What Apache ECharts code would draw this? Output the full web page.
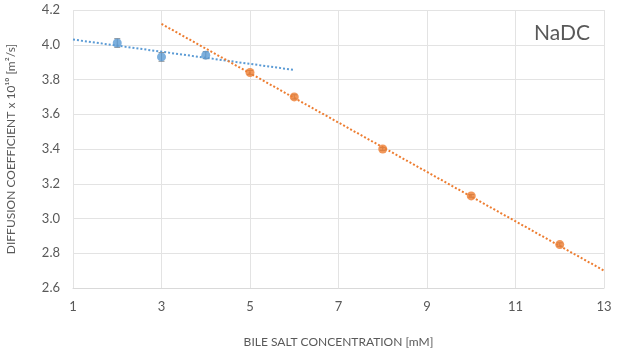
<!DOCTYPE html>
<html>
<head>
<meta charset="utf-8">
<script src="https://cdn.jsdelivr.net/npm/echarts@6/dist/echarts.min.js"></script>
<style>
html,body{margin:0;padding:0;background:#fff;}
#main{width:617px;height:356px;}
</style>
</head>
<body>
<div id="main"></div>
<script>
// 数据
var xTicks = [1, 3, 5, 7, 9, 11, 13];
var blueX = [2, 3, 4];
var blueY = [4.01, 3.93, 3.94];
var blueErr = [0.025, 0.025, 0.02];
var orangeX = [5, 6, 8, 10, 12];
var orangeY = [3.84, 3.70, 3.40, 3.13, 2.85];
var orangeErr = [0.012, 0.012, 0.008, 0.008, 0.01];
// trendline ends
var blueTrend = [[1, 4.03], [6, 3.855]];
var orangeTrend = [[3, 4.12], [13, 2.70]];

var BLUE = '#5b9bd5';
var ORANGE = '#ed7d31';
var GREY = '#595959';
var FONT = 'Lato';

function pairs(xs, ys) {
	var out = [];
	for (var i = 0; i < xs.length; i++) out.push([xs[i], ys[i]]);
	return out;
}
function errData(xs, ys, es) {
	var out = [];
	for (var i = 0; i < xs.length; i++) out.push([xs[i], ys[i] - es[i], ys[i] + es[i]]);
	return out;
}
function errBar(params, api) {
	var x = api.value(0);
	var lo = api.coord([x, api.value(1)]);
	var hi = api.coord([x, api.value(2)]);
	var w = 3;
	var st = {stroke: '#8c8c8c', lineWidth: 1};
	return {
		type: 'group',
		children: [
			{type: 'line', shape: {x1: lo[0], y1: lo[1], x2: hi[0], y2: hi[1]}, style: st},
			{type: 'line', shape: {x1: lo[0] - w, y1: lo[1], x2: lo[0] + w, y2: lo[1]}, style: st},
			{type: 'line', shape: {x1: hi[0] - w, y1: hi[1], x2: hi[0] + w, y2: hi[1]}, style: st}
		]
	};
}

var chart = echarts.init(document.getElementById('main'));
option = {
	animation: false,
	textStyle: {fontFamily: FONT},
	title: {
		text: 'NaDC',
		right: 22,
		top: 18,
		textStyle: {color: GREY, fontSize: 21, fontWeight: 'normal', fontFamily: FONT}
	},
	grid: {left: 73, right: 13, top: 10, bottom: 68, outerBoundsMode: 'none', containLabel: false},
	xAxis: {
		type: 'value',
		min: 1,
		max: 13,
		interval: 2,
		name: 'BILE SALT CONCENTRATION [mM]',
		nameLocation: 'middle',
		nameGap: 48,
		nameTextStyle: {color: GREY, fontSize: 12, fontFamily: FONT},
		axisLine: {show: true, lineStyle: {color: '#d9d9d9'}},
		axisTick: {show: false},
		axisLabel: {color: GREY, fontSize: 13, margin: 12, fontFamily: FONT},
		splitLine: {show: true, lineStyle: {color: '#e3e3e3'}}
	},
	yAxis: {
		type: 'value',
		min: 2.6,
		max: 4.2,
		interval: 0.2,
		name: 'DIFFUSION COEFFICIENT x 10¹⁰ [m²/s]',
		nameLocation: 'middle',
		nameGap: 56,
		nameTextStyle: {color: GREY, fontSize: 12, fontFamily: FONT},
		axisLine: {show: false},
		axisTick: {show: false},
		axisLabel: {
			color: GREY, fontSize: 13, margin: 13, fontFamily: FONT,
			formatter: function (v) { return v.toFixed(1); }
		},
		splitLine: {show: true, lineStyle: {color: '#e3e3e3'}}
	},
	series: [
		{
			name: 'blue trend',
			type: 'line',
			data: blueTrend,
			symbol: 'none',
			lineStyle: {color: BLUE, width: 2, type: [2, 2]},
			z: 1
		},
		{
			name: 'orange trend',
			type: 'line',
			data: orangeTrend,
			symbol: 'none',
			lineStyle: {color: ORANGE, width: 2, type: [2, 2]},
			z: 1
		},
		{
			type: 'custom',
			renderItem: errBar,
			data: errData(blueX, blueY, blueErr),
			z: 2
		},
		{
			type: 'custom',
			renderItem: errBar,
			data: errData(orangeX, orangeY, orangeErr),
			z: 2
		},
		{
			name: 'blue',
			type: 'scatter',
			data: pairs(blueX, blueY),
			symbolSize: 9,
			itemStyle: {color: BLUE},
			z: 3
		},
		{
			name: 'orange',
			type: 'scatter',
			data: pairs(orangeX, orangeY),
			symbolSize: 9,
			itemStyle: {color: ORANGE},
			z: 3
		}
	]
};
chart.setOption(option);
</script>
</body>
</html>
